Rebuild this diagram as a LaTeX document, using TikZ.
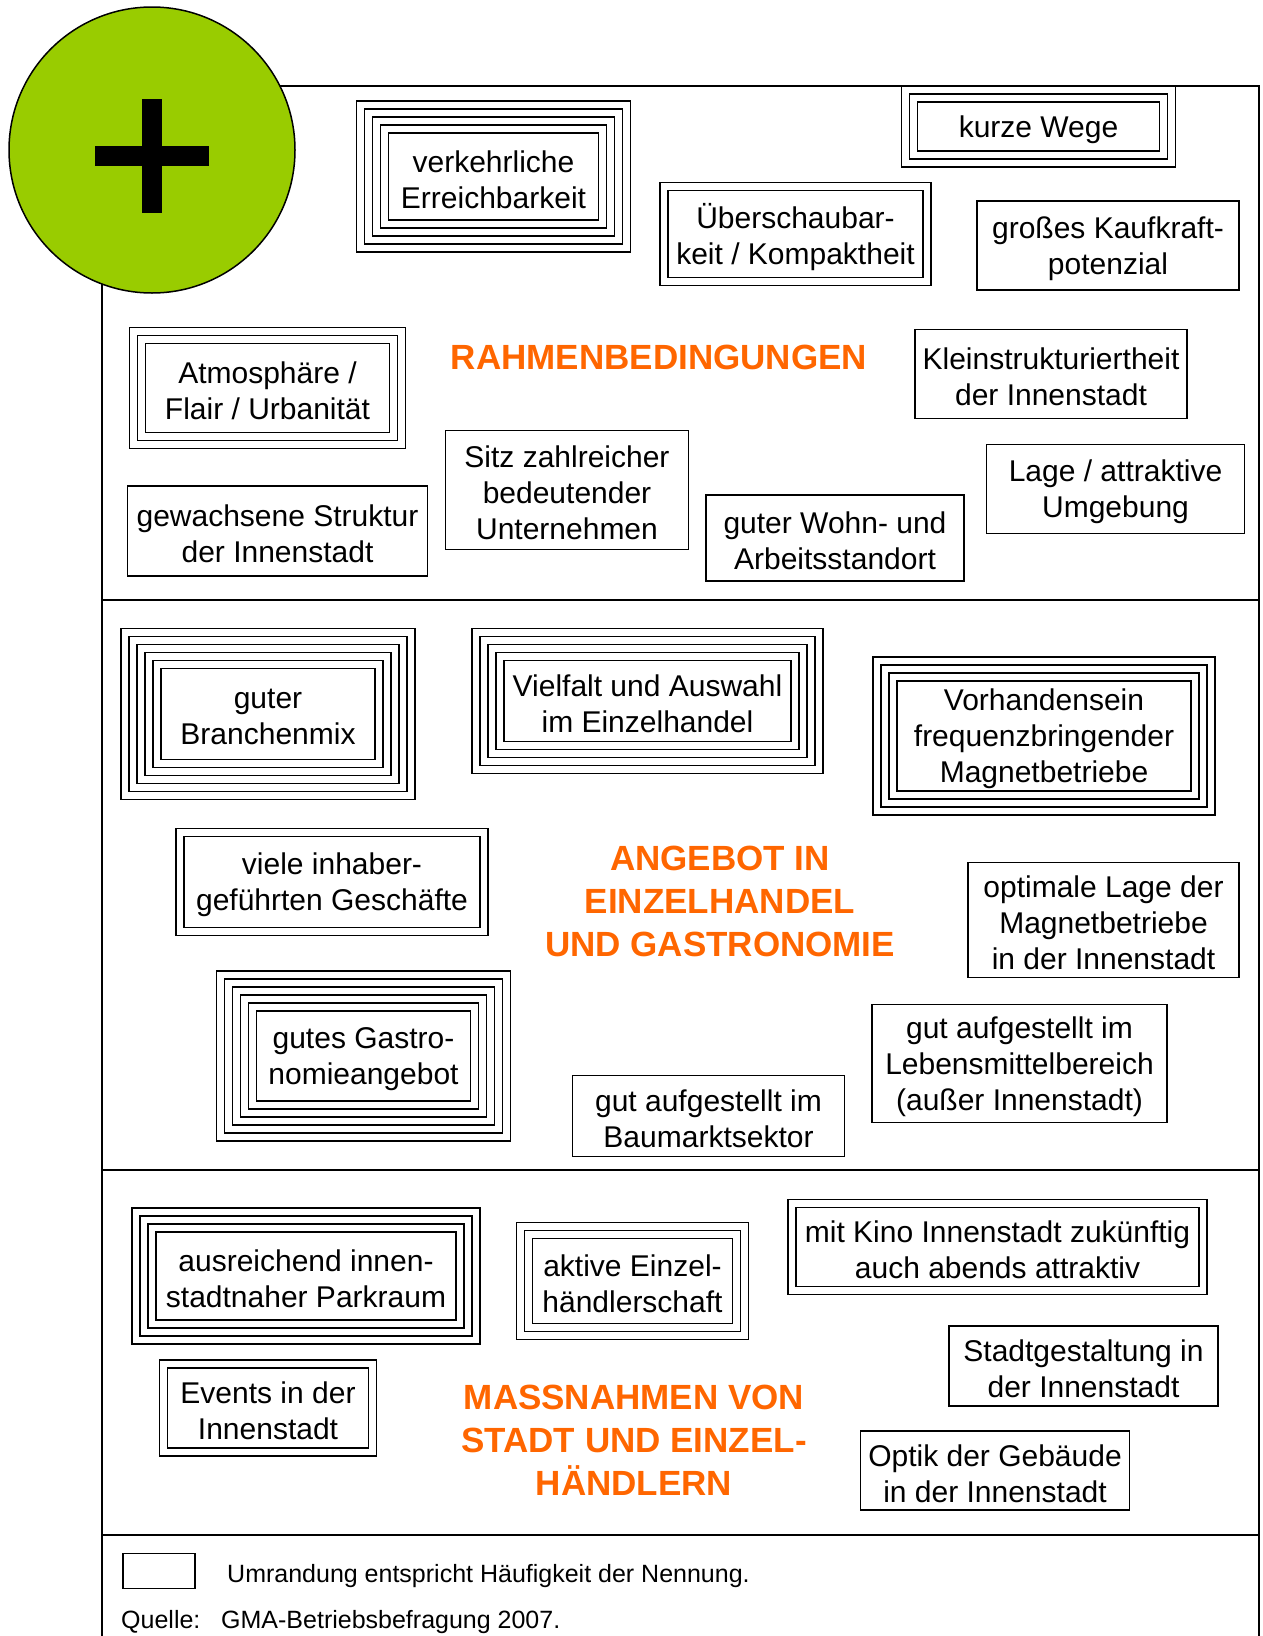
\documentclass[tikz,border=0pt]{standalone}
\usepackage{fontspec}
\setmainfont{Liberation Sans}
\usepackage{tikz}
\definecolor{plusgruen}{RGB}{153,204,0}
\definecolor{titelorange}{RGB}{255,102,0}

\begin{document}
\begin{tikzpicture}[x=1pt, y=-1pt,
    feld/.style={yshift=-3pt, outer sep=0pt, inner sep=0pt, align=center, font=\fontsize{30}{36}\selectfont},
    rand/.style={line width=1.8pt},
    titel/.style={text=titelorange, align=center, font=\fontsize{35}{43}\selectfont\bfseries},
    notiz/.style={anchor=west, inner sep=0pt, font=\fontsize{25}{30}\selectfont}]
    \useasboundingbox (0,0) rectangle (1263,1636);
    \draw[line width=1.5pt] (102,1636) -- (102,86) -- (1259,86) -- (1259,1636);
    \draw[line width=1.5pt] (102,600) -- (1259,600);
    \draw[line width=1.5pt] (102,1170) -- (1259,1170);
    \draw[line width=1.5pt] (102,1535) -- (1259,1535);
    \node[circle, draw, line width=1.5pt, fill=plusgruen, minimum size=286pt] (kreis) at (152,150) {};
    \fill (142,99) rectangle (162,213);
    \fill (95,146) rectangle (209,166);

    \node[feld, minimum width=210pt, minimum height=87pt] (verk) at (493.5,176.5) {verkehrliche\\Erreichbarkeit};
    \node[feld, minimum width=242pt, minimum height=49pt] (kurz) at (1038.5,126.5) {kurze Wege};
    \node[feld, minimum width=255pt, minimum height=87pt] (ueber) at (795.5,234) {Überschaubar-\\keit / Kompaktheit};
    \node[feld, minimum width=262pt, minimum height=89pt] (kaufkraft) at (1108,245.5) {großes Kaufkraft-\\potenzial};
    \node[titel] (rahmen) at (659,357) {RAHMENBEDINGUNGEN};
    \node[feld, minimum width=244pt, minimum height=89pt] (atmo) at (267.5,388) {Atmosphäre /\\Flair / Urbanität};
    \node[feld, minimum width=272pt, minimum height=89pt] (kleinstruktur) at (1051,374) {Kleinstrukturiertheit\\der Innenstadt};
    \node[feld, minimum width=243pt, minimum height=119pt] (sitz) at (567,490) {Sitz zahlreicher\\bedeutender\\Unternehmen};
    \node[feld, minimum width=258pt, minimum height=89pt] (lage) at (1115.5,489) {Lage / attraktive\\Umgebung};
    \node[feld, minimum width=300pt, minimum height=90pt] (gewachsen) at (277.5,531) {gewachsene Struktur\\der Innenstadt};
    \node[feld, minimum width=258pt, minimum height=86pt] (wohn) at (835,538) {guter Wohn- und\\Arbeitsstandort};

    \node[feld, minimum width=214pt, minimum height=91pt] (branche) at (268,714) {guter\\Branchenmix};
    \node[feld, minimum width=287pt, minimum height=81pt] (vielfalt) at (647.5,701) {Vielfalt und Auswahl\\im Einzelhandel};
    \node[feld, minimum width=294pt, minimum height=110pt] (vorh) at (1044,736) {Vorhandensein\\frequenzbringender\\Magnetbetriebe};
    \node[feld, minimum width=296pt, minimum height=91pt] (viele) at (332,882) {viele inhaber-\\geführten Geschäfte};
    \node[titel] (angebot) at (720,901) {ANGEBOT IN\\EINZELHANDEL\\UND GASTRONOMIE};
    \node[feld, minimum width=271pt, minimum height=115pt] (optimal) at (1103.5,920) {optimale Lage der\\Magnetbetriebe\\in der Innenstadt};
    \node[feld, minimum width=214pt, minimum height=90pt] (gastro) at (363.5,1056) {gutes Gastro-\\nomieangebot};
    \node[feld, minimum width=295pt, minimum height=118pt] (lebensmittel) at (1019.5,1063.5) {gut aufgestellt im\\Lebensmittelbereich\\(außer Innenstadt)};
    \node[feld, minimum width=272pt, minimum height=81pt] (baumarkt) at (708.5,1116) {gut aufgestellt im\\Baumarktsektor};

    \node[feld, minimum width=300pt, minimum height=88pt] (park) at (306,1276) {ausreichend innen-\\stadtnaher Parkraum};
    \node[feld, minimum width=200pt, minimum height=85pt] (aktiv) at (632.5,1281) {aktive Einzel-\\händlerschaft};
    \node[feld, minimum width=403pt, minimum height=79pt] (kino) at (997.5,1247) {mit Kino Innenstadt zukünftig\\auch abends attraktiv};
    \node[feld, minimum width=201pt, minimum height=80pt] (events) at (268,1408) {Events in der\\Innenstadt};
    \node[feld, minimum width=269pt, minimum height=80pt] (gestaltung) at (1083.5,1366) {Stadtgestaltung in\\der Innenstadt};
    \node[titel] (massnahmen) at (634,1440) {MASSNAHMEN VON\\STADT UND EINZEL-\\HÄNDLERN};
    \node[feld, minimum width=269pt, minimum height=79pt] (optik) at (995,1470.5) {Optik der Gebäude\\in der Innenstadt};
    \node[feld, minimum width=72pt, minimum height=35pt] (legende) at (159,1571) {};

    \foreach \n/\k in {verk/5,kurz/3,ueber/2,kaufkraft/1,atmo/3,kleinstruktur/1,sitz/1,lage/1,gewachsen/1,wohn/1,
                       branche/6,vielfalt/5,vorh/4,viele/2,optimal/1,gastro/6,lebensmittel/1,baumarkt/1,
                       park/4,aktiv/3,kino/2,events/2,gestaltung/1,optik/1,legende/1} {
        \foreach \i in {1,...,\k} {
            \pgfmathsetmacro\d{(\i-1)*8}
            \draw[rand] ([xshift=-\d pt, yshift=\d pt+3pt]\n.north west) rectangle ([xshift=\d pt, yshift=-\d pt+3pt]\n.south east);
        }
    }

    \node[notiz] (erklaerung) at (227,1576) {Umrandung entspricht Häufigkeit der Nennung.};
    \node[notiz] (quelle) at (121,1622) {Quelle:};
    \node[notiz] (befragung) at (221,1622) {GMA-Betriebsbefragung 2007.};
\end{tikzpicture}
\end{document}
